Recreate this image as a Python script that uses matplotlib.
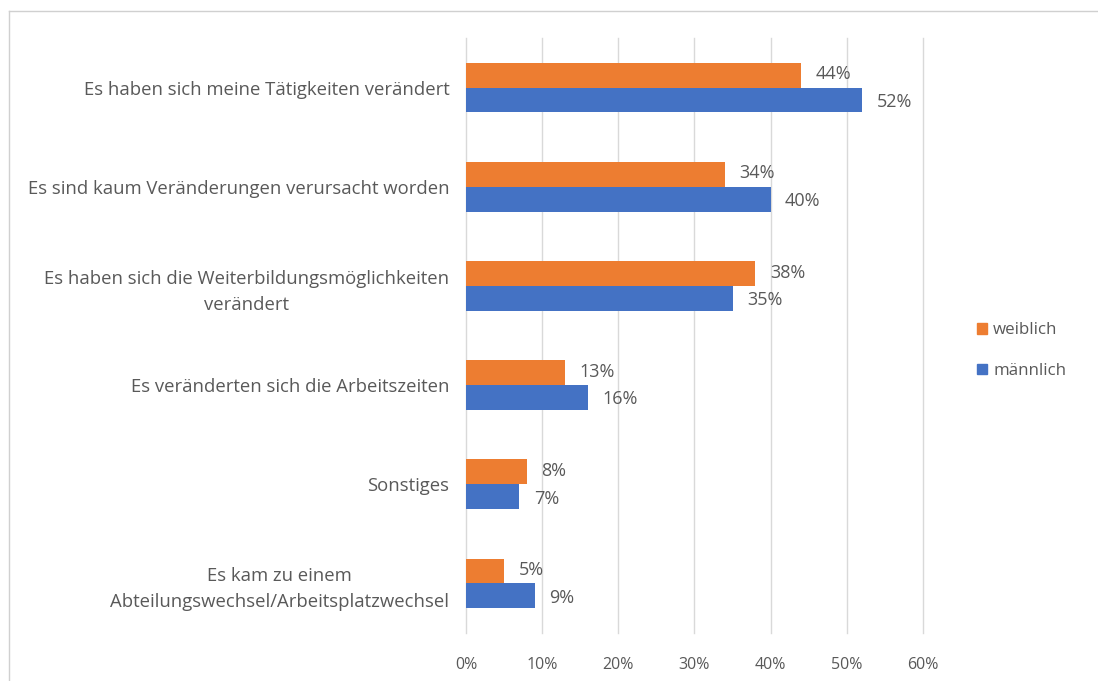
import matplotlib.pyplot as plt
from matplotlib.lines import Line2D
from matplotlib.patches import Patch
import numpy as np

categories = [
    "Es haben sich meine Tätigkeiten verändert",
    "Es sind kaum Veränderungen verursacht worden",
    "Es haben sich die Weiterbildungsmöglichkeiten\nverändert",
    "Es veränderten sich die Arbeitszeiten",
    "Sonstiges",
    "Es kam zu einem\nAbteilungswechsel/Arbeitsplatzwechsel",
]
weiblich = [44, 34, 38, 13, 8, 5]
maennlich = [52, 40, 35, 16, 7, 9]
xticks = [0, 10, 20, 30, 40, 50, 60]

ORANGE = "#ED7D31"
BLUE = "#4472C4"
TEXT = "#595959"
GRID = "#D9D9D9"

plt.rcParams['font.family'] = ['Open Sans', 'DejaVu Sans']

fig = plt.figure(figsize=(10.98, 6.81), dpi=100)
ax = fig.add_axes([0.4244, 0.0705, 0.4162, 0.8737])

y = np.arange(len(categories))
h = 0.25
ax.barh(y - h / 2, weiblich, height=h, color=ORANGE, zorder=3)
ax.barh(y + h / 2, maennlich, height=h, color=BLUE, zorder=3)

for yi, v in zip(y, weiblich):
    ax.text(v + 1.9, yi - h / 2 - 0.01, f"{v}%", va="center", ha="left", fontsize=13, color=TEXT)
for yi, v in zip(y, maennlich):
    ax.text(v + 1.9, yi + h / 2 + 0.02, f"{v}%", va="center", ha="left", fontsize=13, color=TEXT)

ax.set_xlim(0, 60)
ax.set_ylim(len(categories) - 0.5, -0.5)
ax.set_xticks(xticks)
ax.set_xticklabels([f"{t}%" for t in xticks], fontsize=11.5, color=TEXT)
ax.set_yticks(y)
ax.set_yticklabels(categories, fontsize=13.3, color=TEXT, ha="right",
                   multialignment="center", linespacing=1.55)
ax.tick_params(axis="y", length=0, pad=12)
ax.tick_params(axis="x", length=0, pad=17)
ax.grid(axis="x", color=GRID, linewidth=1, zorder=0)
for gl in ax.get_xgridlines():
    gl.set_clip_on(False)
for s in ax.spines.values():
    s.set_visible(False)

handles = [Patch(color=ORANGE, label="weiblich"), Patch(color=BLUE, label="männlich")]
leg = fig.legend(handles=handles, loc="center left", bbox_to_anchor=(0.876, 0.485),
                 frameon=False, fontsize=12.2, handlelength=0.6, handleheight=0.6,
                 handletextpad=0.35, labelspacing=1.45)
for t in leg.get_texts():
    t.set_color(TEXT)

# thin outer frame
fig.add_artist(Line2D([9 / 1098, 1], [1 - 11 / 681] * 2, color="#D0D0D0", lw=1))
fig.add_artist(Line2D([9 / 1098] * 2, [0, 1 - 11 / 681], color="#D0D0D0", lw=1))

fig.savefig("out.png", dpi=100)
